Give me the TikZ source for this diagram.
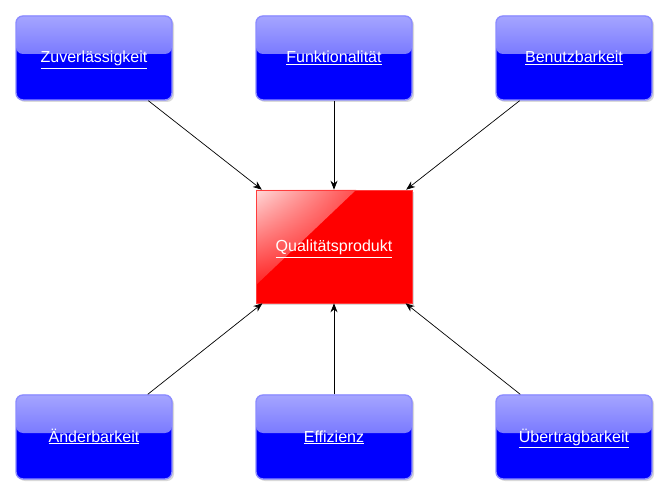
\documentclass[tikz,border=0pt]{standalone}
\usepackage{fontspec}
\setmainfont{Liberation Sans}
\usetikzlibrary{shapes.geometric, arrows, arrows.meta, shadows, shadings}

\tikzset{
  qbox/.style={rectangle, rounded corners=7pt, minimum width=156, minimum height=84,
    fill=blue, draw={rgb,255:red,140;green,140;blue,255}, line width=1.4pt,
    drop shadow={shadow xshift=2pt, shadow yshift=-2pt, opacity=0.3},
    text=white, font=\fontsize{16}{18}\selectfont, text height=10pt, text depth=0pt,
    path picture={\shade[top color={rgb,255:red,165;green,165;blue,255},
      bottom color={rgb,255:red,70;green,70;blue,255}]
      (path picture bounding box.north west) rectangle ([yshift=4pt]path picture bounding box.east);}},
  prod/.style={rectangle, minimum width=156, minimum height=113, fill=red,
    draw={rgb,255:red,255;green,60;blue,60}, line width=0.6pt,
    drop shadow={shadow xshift=2pt, shadow yshift=-2pt, opacity=0.3},
    text=white, font=\fontsize{16}{18}\selectfont, text height=11pt, text depth=0pt,
    path picture={\shade[upper left=white!85!red, upper right=red, lower left=red, lower right=red]
      (path picture bounding box.north west) -- ++(100,0) -- ++(-100,-95) -- cycle;}},
  pfeil/.style={-{Stealth[length=9pt,width=7pt]}, line width=0.7pt}
}

\begin{document}
\begin{tikzpicture}[x=1pt,y=1pt,yscale=-1]
\useasboundingbox (0,0) rectangle (667,494);

% Eigenschaften oben
\node[qbox] (zuv) at (94,58) {\underline{Zuverlässigkeit}};
\node[qbox] (fkt) at (334,58) {\underline{Funktionalität}};
\node[qbox] (bnb) at (574,58) {\underline{Benutzbarkeit}};

% Mitte
\node[prod] (qp) at (334,246.5) {\underline{Qualitätsprodukt}};

% Eigenschaften unten
\node[qbox] (aen) at (94,437) {\underline{Änderbarkeit}};
\node[qbox] (eff) at (334,437) {\underline{Effizienz}};
\node[qbox] (ueb) at (574,437) {\underline{Übertragbarkeit}};

% Pfeile
\foreach \n in {zuv,fkt,bnb,aen,eff,ueb}
  \draw[pfeil] (\n) -- (qp);

\end{tikzpicture}
\end{document}
